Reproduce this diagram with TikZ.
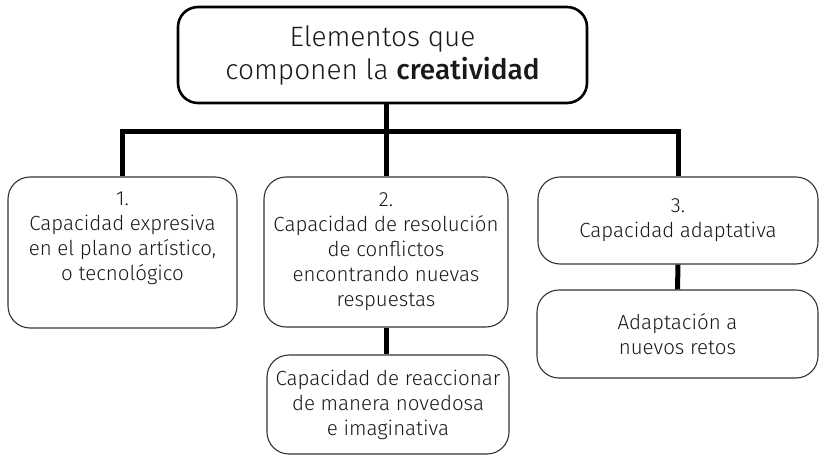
\documentclass[tikz,border=0pt]{standalone}
\usepackage{fontspec}
\setmainfont{Fira Sans Light}[BoldFont={Fira Sans Medium}]
\begin{document}
\begin{tikzpicture}[x=1pt,y=-1pt,
  box/.style={draw=black!80, line width=1.1pt, rounded corners=22pt, align=center,
    font=\fontsize{20.5}{25}\selectfont, inner sep=0pt, text=black!90},
  topbox/.style={draw=black, line width=2.6pt, rounded corners=20pt, align=center,
    font=\fontsize{28}{33}\selectfont, inner sep=0pt, text=black!90},
  txt/.style={align=center, font=\fontsize{20.5}{25}\selectfont, inner sep=0pt, text=black!90},
  conn/.style={line width=5pt, line join=miter}]
\useasboundingbox (0,0) rectangle (820,455);
\node[topbox, minimum width=409pt, minimum height=96pt] (top) at (382.5,55)
  {Elementos que\\componen la \textbf{creatividad}};
\node[box, minimum width=229pt, minimum height=151pt] (b1) at (122.5,252.5) {};
\node[txt] (t1) at (122.5,238) {1.\\Capacidad expresiva\\en el plano artístico,\\o tecnológico};
\node[box, minimum width=244pt, minimum height=150pt] (b2) at (386,252)
  {2.\\Capacidad de resolución\\de conflictos\\encontrando nuevas\\respuestas};
\node[box, minimum width=280pt, minimum height=87pt] (b3) at (678,220.5)
  {3.\\Capacidad adaptativa};
\node[box, minimum width=242pt, minimum height=99pt] (b4) at (388,404.5)
  {Capacidad de reaccionar\\de manera novedosa\\e imaginativa};
\node[box, minimum width=281pt, minimum height=88pt] (b5) at (677.5,334)
  {Adaptación a\\nuevos retos};
\coordinate (bar) at (386,131);
\draw[conn] (top.south -| b2.north) -- (b2.north);
\draw[conn] (b1.north) |- (bar) -| (b3.north);
\draw[conn] (b2.south) -- (b2.south |- b4.north);
\draw[conn] (b3.south) -- (b5.north);
\end{tikzpicture}
\end{document}
